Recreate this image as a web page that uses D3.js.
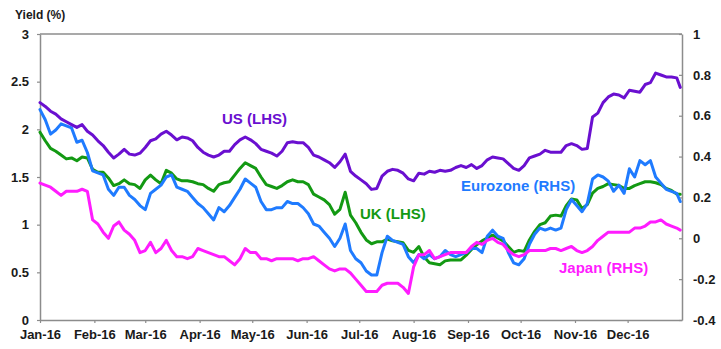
<!DOCTYPE html>
<html>
<head>
<meta charset="utf-8">
<script src="https://cdn.jsdelivr.net/npm/d3@7/dist/d3.min.js"></script>
<style>
  html, body { margin: 0; padding: 0; background: #fff; }
  svg { display: block; }
  text { font-family: "Liberation Sans", Arial, sans-serif; }
</style>
</head>
<body>
<svg id="chart" width="721" height="349"></svg>
<script>
// Sample dates (every third day through 2016)
const dates = [
  "2016-01-01","2016-01-04","2016-01-07","2016-01-10","2016-01-13","2016-01-16","2016-01-19","2016-01-22","2016-01-25","2016-01-28",
  "2016-01-31","2016-02-03","2016-02-06","2016-02-09","2016-02-12","2016-02-15","2016-02-18","2016-02-21","2016-02-24","2016-02-27",
  "2016-03-01","2016-03-04","2016-03-07","2016-03-10","2016-03-13","2016-03-16","2016-03-19","2016-03-22","2016-03-25","2016-03-28",
  "2016-03-31","2016-04-03","2016-04-06","2016-04-09","2016-04-12","2016-04-15","2016-04-18","2016-04-21","2016-04-24","2016-04-27",
  "2016-04-30","2016-05-03","2016-05-06","2016-05-09","2016-05-12","2016-05-15","2016-05-18","2016-05-21","2016-05-24","2016-05-27",
  "2016-05-30","2016-06-02","2016-06-05","2016-06-08","2016-06-11","2016-06-14","2016-06-17","2016-06-20","2016-06-23","2016-06-26",
  "2016-06-29","2016-07-02","2016-07-05","2016-07-08","2016-07-11","2016-07-14","2016-07-17","2016-07-20","2016-07-23","2016-07-26",
  "2016-07-29","2016-08-01","2016-08-04","2016-08-07","2016-08-10","2016-08-13","2016-08-16","2016-08-19","2016-08-22","2016-08-25",
  "2016-08-28","2016-08-31","2016-09-03","2016-09-06","2016-09-09","2016-09-12","2016-09-15","2016-09-18","2016-09-21","2016-09-24",
  "2016-09-27","2016-09-30","2016-10-03","2016-10-06","2016-10-09","2016-10-12","2016-10-15","2016-10-18","2016-10-21","2016-10-24",
  "2016-10-27","2016-10-30","2016-11-02","2016-11-05","2016-11-08","2016-11-11","2016-11-14","2016-11-17","2016-11-20","2016-11-23",
  "2016-11-26","2016-11-29","2016-12-02","2016-12-05","2016-12-08","2016-12-11","2016-12-14","2016-12-17","2016-12-20","2016-12-23",
  "2016-12-26","2016-12-29","2016-12-31"
];

// 10-year government bond yields, % (US and UK on the left axis)
const usYield = [
  2.28,2.24,2.19,2.16,2.11,2.08,2.05,2.02,2.05,1.98,
  1.94,1.88,1.83,1.76,1.70,1.74,1.79,1.74,1.73,1.75,
  1.81,1.88,1.90,1.95,1.98,1.94,1.89,1.92,1.91,1.88,
  1.81,1.76,1.73,1.71,1.73,1.77,1.77,1.84,1.89,1.92,
  1.89,1.85,1.79,1.77,1.75,1.72,1.77,1.86,1.87,1.86,
  1.86,1.81,1.73,1.71,1.68,1.65,1.60,1.66,1.74,1.56,
  1.51,1.47,1.43,1.37,1.38,1.51,1.56,1.58,1.57,1.54,
  1.48,1.46,1.54,1.53,1.56,1.55,1.57,1.56,1.57,1.60,
  1.62,1.60,1.63,1.59,1.62,1.68,1.71,1.70,1.69,1.64,
  1.59,1.57,1.62,1.70,1.72,1.74,1.78,1.76,1.76,1.76,
  1.83,1.85,1.83,1.79,1.80,2.13,2.17,2.28,2.34,2.37,
  2.36,2.33,2.41,2.40,2.39,2.47,2.49,2.59,2.57,2.55,
  2.55,2.54,2.44
];

const ukYield = [
  1.97,1.88,1.80,1.77,1.73,1.69,1.70,1.67,1.71,1.70,
  1.58,1.55,1.55,1.49,1.41,1.43,1.47,1.43,1.42,1.38,
  1.47,1.52,1.47,1.43,1.57,1.54,1.48,1.46,1.46,1.45,
  1.43,1.42,1.38,1.35,1.42,1.44,1.45,1.52,1.59,1.65,
  1.62,1.59,1.50,1.42,1.40,1.38,1.41,1.45,1.47,1.45,
  1.45,1.42,1.32,1.29,1.26,1.21,1.11,1.16,1.34,1.10,
  1.02,0.92,0.84,0.80,0.82,0.82,0.85,0.83,0.82,0.81,
  0.73,0.71,0.77,0.66,0.60,0.59,0.58,0.62,0.63,0.63,
  0.63,0.68,0.74,0.79,0.83,0.86,0.89,0.86,0.83,0.77,
  0.71,0.73,0.72,0.84,0.93,1.00,1.02,1.09,1.10,1.09,
  1.20,1.27,1.26,1.17,1.21,1.33,1.38,1.40,1.43,1.42,
  1.41,1.38,1.38,1.41,1.43,1.45,1.45,1.44,1.42,1.38,
  1.36,1.32,1.32
];

// Eurozone and Japan on the right axis
const euroYield = [
  0.63,0.58,0.51,0.53,0.56,0.55,0.54,0.47,0.48,0.42,
  0.33,0.32,0.31,0.24,0.21,0.25,0.25,0.21,0.19,0.16,
  0.14,0.22,0.24,0.26,0.30,0.31,0.25,0.24,0.23,0.20,
  0.17,0.15,0.12,0.09,0.15,0.13,0.16,0.20,0.24,0.29,
  0.27,0.25,0.18,0.14,0.14,0.15,0.15,0.18,0.17,0.17,
  0.15,0.12,0.07,0.06,0.03,0.00,-0.04,0.00,0.07,-0.06,
  -0.10,-0.12,-0.16,-0.18,-0.18,-0.07,0.01,-0.01,-0.02,-0.03,
  -0.09,-0.12,-0.08,-0.10,-0.08,-0.10,-0.09,-0.06,-0.08,-0.09,
  -0.08,-0.07,-0.05,-0.05,-0.07,0.01,0.04,0.01,0.00,-0.07,
  -0.12,-0.13,-0.10,-0.03,0.02,0.05,0.04,0.05,0.04,0.05,
  0.14,0.19,0.16,0.13,0.17,0.29,0.31,0.30,0.28,0.23,
  0.26,0.22,0.34,0.30,0.38,0.36,0.38,0.30,0.27,0.24,
  0.23,0.22,0.18
];

const japanYield = [
  0.27,0.26,0.25,0.23,0.21,0.23,0.23,0.23,0.24,0.23,
  0.09,0.07,0.03,0.00,0.06,0.08,0.04,0.02,-0.01,-0.07,
  -0.06,-0.02,-0.07,-0.05,-0.01,-0.06,-0.09,-0.09,-0.10,-0.09,
  -0.05,-0.06,-0.07,-0.08,-0.09,-0.09,-0.11,-0.13,-0.10,-0.05,
  -0.07,-0.07,-0.10,-0.10,-0.11,-0.10,-0.10,-0.10,-0.10,-0.11,
  -0.10,-0.10,-0.09,-0.11,-0.13,-0.15,-0.16,-0.15,-0.15,-0.17,
  -0.20,-0.23,-0.26,-0.26,-0.26,-0.23,-0.22,-0.22,-0.22,-0.24,
  -0.27,-0.14,-0.08,-0.08,-0.06,-0.10,-0.09,-0.08,-0.07,-0.07,
  -0.07,-0.07,-0.04,-0.02,-0.03,-0.01,0.00,-0.02,-0.03,-0.06,
  -0.08,-0.09,-0.08,-0.06,-0.06,-0.06,-0.06,-0.05,-0.05,-0.06,
  -0.05,-0.04,-0.06,-0.07,-0.06,-0.04,-0.01,0.01,0.03,0.03,
  0.03,0.03,0.03,0.05,0.05,0.06,0.08,0.08,0.09,0.07,
  0.06,0.05,0.04
];

const leftTicks = [0, 0.5, 1, 1.5, 2, 2.5, 3];
const rightTicks = [-0.4, -0.2, 0, 0.2, 0.4, 0.6, 0.8, 1];
const monthTicks = ["2016-01-01","2016-02-01","2016-03-01","2016-04-01","2016-05-01","2016-06-01",
                    "2016-07-01","2016-08-01","2016-09-01","2016-10-01","2016-11-01","2016-12-01"];

const parse = d3.timeParse("%Y-%m-%d");
const dateVals = dates.map(parse);

const svg = d3.select("#chart");
const plot = { left: 40, right: 682, top: 34, bottom: 320 };
const axisColor = "#8c8c8c";
const textColor = "#1a1a1a";

const x = d3.scaleTime()
  .domain([parse("2016-01-01"), parse("2017-01-01")])
  .range([plot.left, plot.right]);
const yL = d3.scaleLinear().domain([0, 3]).range([plot.bottom, plot.top]);
const yR = d3.scaleLinear().domain([-0.4, 1]).range([plot.bottom, plot.top]);

// Frame: top border
svg.append("line")
  .attr("x1", plot.left).attr("x2", plot.right)
  .attr("y1", plot.top).attr("y2", plot.top)
  .attr("stroke", axisColor).attr("stroke-width", 1.5);

function styleAxis(g) {
  g.select(".domain").attr("stroke", axisColor).attr("stroke-width", 1.5);
  g.selectAll(".tick line").attr("stroke", axisColor).attr("stroke-width", 1.2);
  g.selectAll(".tick text")
    .attr("fill", textColor)
    .style("font-size", "13px")
    .style("font-weight", "bold");
}

// Left axis (US, UK)
svg.append("g")
  .attr("transform", `translate(${plot.left},0)`)
  .call(d3.axisLeft(yL).tickValues(leftTicks).tickSize(3).tickSizeOuter(0).tickPadding(8)
    .tickFormat(d => String(d)))
  .call(styleAxis);

// Right axis (Eurozone, Japan), ticks pointing inward
svg.append("g")
  .attr("transform", `translate(${plot.right},0)`)
  .call(d3.axisRight(yR).tickValues(rightTicks).tickSize(-3).tickSizeOuter(0).tickPadding(11)
    .tickFormat(d => String(d)))
  .call(styleAxis);

// Bottom axis
svg.append("g")
  .attr("transform", `translate(0,${plot.bottom})`)
  .call(d3.axisBottom(x).tickValues(monthTicks.map(parse)).tickSize(3).tickSizeOuter(0).tickPadding(7)
    .tickFormat(d3.timeFormat("%b-%y")))
  .call(styleAxis);

// Axis title
svg.append("text")
  .attr("x", 15).attr("y", 19)
  .attr("fill", textColor)
  .style("font-size", "12px")
  .style("font-weight", "bold")
  .text("Yield (%)");

const series = [
  { name: "UK (LHS)", values: ukYield, y: yL, color: "#139913" },
  { name: "Eurozone (RHS)", values: euroYield, y: yR, color: "#1f7bff" },
  { name: "Japan (RHS)", values: japanYield, y: yR, color: "#ff1cff" },
  { name: "US (LHS)", values: usYield, y: yL, color: "#6a0fd0" }
];

series.forEach(s => {
  const line = d3.line()
    .x((d, i) => x(dateVals[i]))
    .y(d => s.y(d));
  svg.append("path")
    .datum(s.values)
    .attr("d", line)
    .attr("fill", "none")
    .attr("stroke", s.color)
    .attr("stroke-width", 3)
    .attr("stroke-linejoin", "round")
    .attr("stroke-linecap", "round");
});

// Series labels
const labels = [
  { text: "US (LHS)", x: 222, y: 124, color: "#6a0fd0" },
  { text: "UK (LHS)", x: 360, y: 219, color: "#139913" },
  { text: "Eurozone (RHS)", x: 461, y: 191, color: "#1f7bff" },
  { text: "Japan (RHS)", x: 559, y: 273, color: "#ff1cff" }
];
svg.selectAll("text.series-label")
  .data(labels)
  .join("text")
  .attr("class", "series-label")
  .attr("x", d => d.x).attr("y", d => d.y)
  .attr("fill", d => d.color)
  .style("font-size", "15px")
  .style("font-weight", "bold")
  .text(d => d.text);
</script>
</body>
</html>
